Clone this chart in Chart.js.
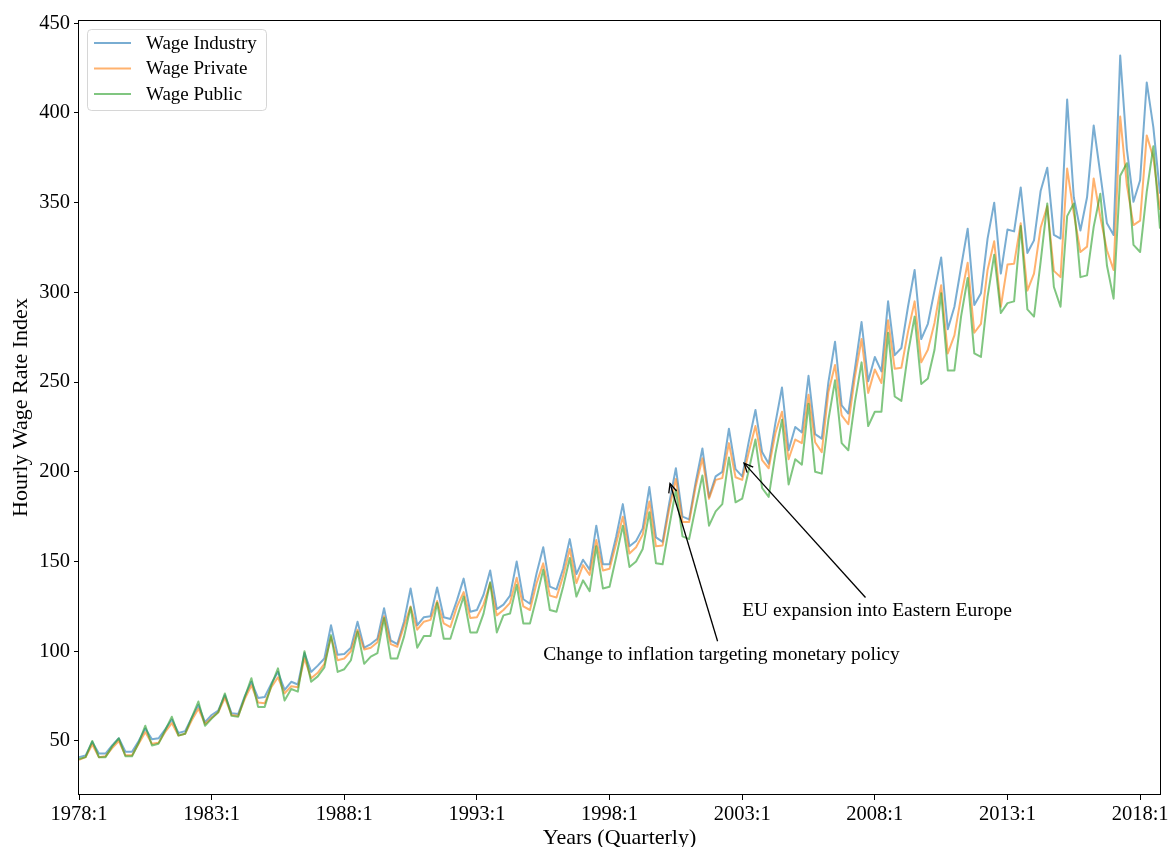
<!DOCTYPE html>
<html>
<head>
<meta charset="utf-8">
<title>Hourly Wage Rate Index</title>
<script src="https://cdn.jsdelivr.net/npm/chart.js@4.4.1/dist/chart.umd.min.js"></script>
<style>
  html, body { margin: 0; padding: 0; overflow: hidden; background: #fff; }
  #wrap { position: relative; width: 1171px; height: 860px; }
</style>
</head>
<body>
<div id="wrap"><canvas id="c" width="1171" height="860"></canvas></div>
<script>
// Quarterly categories 1978:1 ... 2018:4
const quarters = [];
for (let y = 1978; y <= 2018; y++) for (let q = 1; q <= 4; q++) quarters.push(y + ':' + q);

const xTickLabels = ['1978:1', '1983:1', '1988:1', '1993:1', '1998:1', '2003:1', '2008:1', '2013:1', '2018:1'];
const yTicks = [50, 100, 150, 200, 250, 300, 350, 400, 450];

const wageIndustry = [
  41, 42, 49.5, 43, 43, 47.5, 51.5, 44, 44, 50, 57, 51, 51.5, 56.5, 62, 54.5, 55.5, 63, 70, 60.5,
  64.5, 67, 75.5, 65.5, 65, 75, 83, 74, 74.5, 82, 88.5, 78.5, 83, 81.5, 99, 88.5, 92, 96, 114.5, 98,
  98.5, 102, 116.5, 102, 104, 107, 124, 106, 104, 116.5, 135, 114.5, 119, 119.5, 135.5, 119, 118, 128.5, 140.5, 122,
  123, 131.5, 145, 123.5, 126, 131, 150, 129, 126.5, 143.5, 158, 136, 134.5, 146, 162.5, 143, 151, 145.5, 170, 148.5,
  148.5, 164, 182, 158.5, 161.5, 168.5, 191.5, 163.5, 161, 182.5, 202, 175, 173.5, 194.5, 213, 186, 197.5, 200, 224, 201.5,
  197.5, 217, 234.5, 211, 204.5, 227, 247, 212, 225, 222, 253.5, 221, 218.5, 250, 272.5, 237, 232.5, 257.5, 283.5, 250.5,
  264, 256, 295, 265, 269, 292, 312.5, 274, 282.5, 301, 319.5, 279.5, 292, 314, 335.5, 293, 299.5, 330, 350, 310.5,
  335, 334, 358.5, 322, 329, 356.5, 369.5, 332, 330, 407.5, 353, 334.5, 353, 393, 366, 338.5, 332, 432, 380, 350.5,
  362.5, 417, 392, 355
];
const wagePrivate = [
  39.5, 41, 48, 41, 41.5, 46, 50, 42, 42, 48.5, 55, 48.5, 49, 55, 60, 53, 54, 61.5, 68, 59.5,
  63, 66, 74, 64.5, 64, 73.5, 81, 71.5, 71, 80, 85.5, 76.5, 80.5, 80, 96, 85, 88, 93, 108, 95,
  96, 100, 112, 101, 102, 105, 119.5, 104, 102.5, 114, 125, 112, 116.5, 117.5, 128, 115.5, 113.5, 125, 133, 118.5,
  119, 126, 138, 120, 123, 127, 141, 125, 123, 138, 149, 131, 130, 142, 157, 138, 148, 142.5, 162, 145,
  146, 160, 175, 154.5, 158, 165, 183.5, 158.5, 159, 179.5, 196, 172, 172, 192, 207.5, 185, 195.5, 196.5, 216, 197,
  195.5, 211, 225.5, 206.5, 202, 221.5, 233.5, 207, 218, 216, 243, 216.5, 211, 244.5, 259.5, 231.5, 226.5, 253, 274, 244,
  257, 249.5, 284.5, 257.5, 258, 278, 295, 261, 268, 283, 304, 266, 276, 297.5, 316.5, 277.5, 282.5, 312.5, 328.5, 292,
  315.5, 316, 338.5, 301, 310.5, 336, 348, 312, 308.5, 369, 344, 322.5, 325.5, 363.5, 342, 323.5, 312.5, 398, 360, 337.5,
  340, 387.5, 375, 346
];
const wagePublic = [
  40, 41, 50, 41, 41, 47, 51.5, 41.5, 41.5, 49, 58.5, 47.5, 48.5, 56, 63.5, 53, 54, 63, 72, 58.5,
  62.5, 66, 76.5, 64, 63.5, 74.5, 85, 69, 69, 81, 90.5, 72.5, 79, 77.5, 100, 83, 86, 91, 109, 88.5,
  90, 95, 111, 93, 97, 99, 118.5, 96, 96, 108, 124.5, 102, 108.5, 108.5, 127, 107, 107, 119, 130.5, 110.5,
  110.5, 121, 138.5, 110.5, 120, 121, 137, 115.5, 115.5, 130, 145.5, 123, 122, 136, 152, 130.5, 139.5, 133.5, 158.5, 135,
  136, 152.5, 170, 147, 150, 157, 177.5, 149, 148.5, 169.5, 190, 164, 162.5, 180.5, 198, 170, 178, 182, 208, 183,
  185, 201, 218, 191, 186, 210, 229, 193, 207, 204, 238, 200, 199, 229, 251, 216, 212, 239, 261, 225.5,
  233.5, 233.5, 277.5, 242, 239.5, 266, 286.5, 249, 252, 268, 299.5, 256.5, 256.5, 286.5, 308, 266, 264, 297.5, 321, 288.5,
  294, 295, 337, 290.5, 286.5, 317, 349.5, 303, 292, 342.5, 349.5, 308.5, 309.5, 336.5, 355, 315, 296.5, 365, 372, 326.5,
  322.5, 356, 381.5, 335.5
];

// Annotated events: arrow tip and text anchor (left, baseline) in data units
const notes = [
  { text: 'Change to inflation targeting monetary policy', tip: [89, 195], at: [70, 95] },
  { text: 'EU expansion into Eastern Europe', tip: [100, 206], at: [100, 119.5] }
];

const SERIF = '"Liberation Serif", "Times New Roman", serif';

const framePlugin = {
  id: 'frame',
  afterDatasetsDraw(chart) {
    const { ctx, chartArea: a } = chart;
    ctx.save();
    ctx.strokeStyle = '#000';
    ctx.lineWidth = 1;
    ctx.strokeRect(Math.round(a.left) - 0.5, Math.round(a.top) + 0.5,
                   Math.round(a.right - a.left) + 1, Math.round(a.bottom - a.top) - 1);
    ctx.restore();
  }
};

const notesPlugin = {
  id: 'notes',
  afterDatasetsDraw(chart) {
    const { ctx, scales: { x, y } } = chart;
    ctx.save();
    ctx.font = '19.5px ' + SERIF;
    ctx.fillStyle = '#000';
    ctx.strokeStyle = '#000';
    ctx.lineWidth = 1.3;
    notes.forEach(n => {
      const tx = x.getPixelForValue(n.at[0]);
      const ty = y.getPixelForValue(n.at[1]);
      ctx.textAlign = 'left';
      ctx.textBaseline = 'alphabetic';
      ctx.fillText(n.text, tx, ty);
      const w = ctx.measureText(n.text).width;
      const h = 20;
      const cx = tx + w / 2, cy = ty - 6;
      const px = x.getPixelForValue(n.tip[0]);
      const py = y.getPixelForValue(n.tip[1]);
      let dx = px - cx, dy = py - cy;
      const len = Math.hypot(dx, dy);
      dx /= len; dy /= len;
      // leave the text box, then shrink both ends a little
      const tEdge = Math.min(Math.abs((h / 2 + 2) / dy), Math.abs((w / 2 + 2) / dx));
      const sx = cx + dx * (tEdge + 1), sy = cy + dy * (tEdge + 1);
      const ex = px - dx * 2.8, ey = py - dy * 2.8;
      ctx.beginPath();
      ctx.moveTo(sx, sy);
      ctx.lineTo(ex, ey);
      ctx.stroke();
      const ang = Math.atan2(dy, dx);
      const hl = 10, spread = 0.42;
      ctx.beginPath();
      ctx.moveTo(ex - hl * Math.cos(ang - spread), ey - hl * Math.sin(ang - spread));
      ctx.lineTo(ex, ey);
      ctx.lineTo(ex - hl * Math.cos(ang + spread), ey - hl * Math.sin(ang + spread));
      ctx.stroke();
    });
    ctx.restore();
  }
};

const legendBoxPlugin = {
  id: 'legendBox',
  afterDraw(chart) {
    const { ctx, chartArea: a } = chart;
    const left = a.left + 8.5, top = a.top + 9.5, w = 179, h = 81, r = 4;
    ctx.save();
    ctx.beginPath();
    ctx.roundRect(left, top, w, h, r);
    ctx.fillStyle = 'rgba(255,255,255,0.8)';
    ctx.fill();
    ctx.strokeStyle = 'rgba(204,204,204,0.8)';
    ctx.lineWidth = 1;
    ctx.stroke();
    ctx.font = '19px ' + SERIF;
    ctx.textBaseline = 'middle';
    ctx.textAlign = 'left';
    chart.data.datasets.forEach((ds, i) => {
      const yy = a.top + 23 + i * 25.5;
      ctx.strokeStyle = ds.borderColor;
      ctx.lineWidth = 2;
      ctx.beginPath();
      ctx.moveTo(a.left + 15, yy);
      ctx.lineTo(a.left + 52, yy);
      ctx.stroke();
      ctx.fillStyle = '#000';
      ctx.fillText(ds.label, a.left + 67, yy + 1);
    });
    ctx.restore();
  }
};

new Chart(document.getElementById('c'), {
  type: 'line',
  data: {
    labels: quarters,
    datasets: [
      { label: 'Wage Industry', data: wageIndustry, borderColor: 'rgba(31,119,180,0.6)', order: 3 },
      { label: 'Wage Private', data: wagePrivate, borderColor: 'rgba(255,127,14,0.6)', order: 2 },
      { label: 'Wage Public', data: wagePublic, borderColor: 'rgba(44,160,44,0.6)', order: 1 }
    ]
  },
  options: {
    responsive: false,
    animation: false,
    devicePixelRatio: 1,
    layout: { padding: { top: 20, right: 11, left: 0, bottom: 0 } },
    elements: {
      line: { borderWidth: 2, tension: 0, fill: false, borderJoinStyle: 'round', borderCapStyle: 'butt' },
      point: { radius: 0, hoverRadius: 0 }
    },
    plugins: {
      legend: { display: false },
      tooltip: { enabled: false }
    },
    scales: {
      x: {
        type: 'category',
        offset: false,
        afterBuildTicks(s) { s.ticks = s.ticks.filter(t => xTickLabels.includes(quarters[t.value])); },
        afterFit(s) { s.height = 65; },
        border: { display: false },
        grid: { drawOnChartArea: false, drawTicks: true, tickLength: 5, color: '#000', lineWidth: 1 },
        ticks: { autoSkip: false, maxRotation: 0, color: '#000', padding: 2, font: { family: SERIF, size: 20.5 } },
        title: { display: true, text: 'Years (Quarterly)', color: '#000', font: { family: SERIF, size: 22 }, padding: { top: 0, bottom: 9 } }
      },
      y: {
        type: 'linear',
        min: 19.9,
        max: 451.8,
        afterBuildTicks(s) { s.ticks = yTicks.map(v => ({ value: v })); },
        afterFit(s) { s.width = 79; },
        border: { display: false },
        grid: { drawOnChartArea: false, drawTicks: true, tickLength: 5, color: '#000', lineWidth: 1 },
        ticks: { color: '#000', padding: 4, font: { family: SERIF, size: 20.5 } },
        title: { display: true, text: 'Hourly Wage Rate Index', color: '#000', font: { family: SERIF, size: 22 }, padding: { top: 8, bottom: 0 } }
      }
    }
  },
  plugins: [framePlugin, notesPlugin, legendBoxPlugin]
});
</script>
</body>
</html>
